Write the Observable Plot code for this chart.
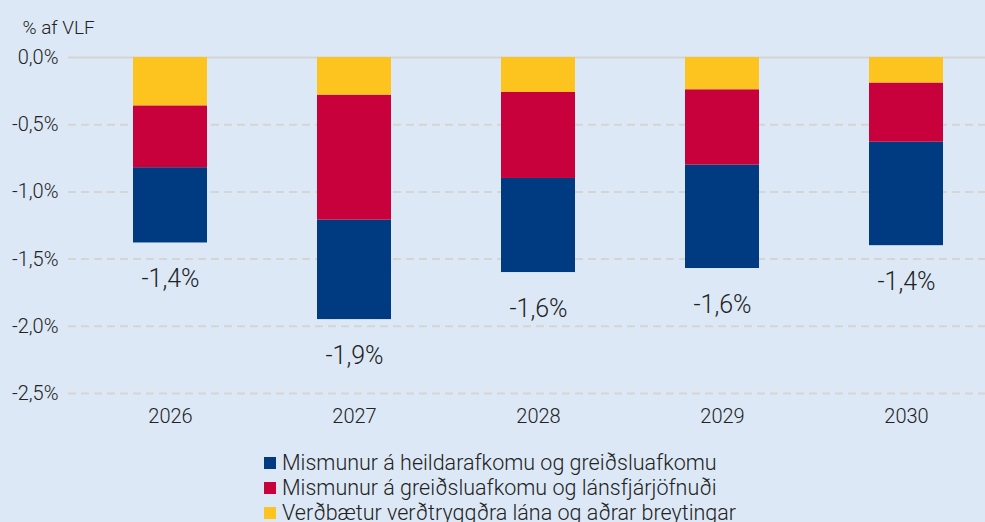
<!DOCTYPE html>
<html>
<head>
<meta charset="utf-8">
<script src="https://cdn.jsdelivr.net/npm/d3@7"></script>
<script src="https://cdn.jsdelivr.net/npm/@observablehq/plot@0.6"></script>
<style>
  html, body { margin: 0; padding: 0; background: #dce8f5; }
  body { width: 985px; height: 522px; overflow: hidden; font-family: Roboto, "Noto Sans", sans-serif; color: #222; }
  #legend { margin-left: 264px; margin-top: 10px; font-size: 21.5px; font-weight: 300; }
  .row { display: flex; align-items: center; height: 25px; white-space: nowrap; }
  .sw { width: 12px; height: 12px; margin-right: 6px; flex: none; }
</style>
</head>
<body>
<div id="chart"></div>
<div id="legend"></div>
<script>
const years = ["2026", "2027", "2028", "2029", "2030"];
const seriesNames = [
  "Mismunur á heildarafkomu og greiðsluafkomu",
  "Mismunur á greiðsluafkomu og lánsfjárjöfnuði",
  "Verðbætur verðtryggðra lána og aðrar breytingar"
];
const seriesColors = ["#003b82", "#c8003b", "#fdc41f"];
const heildarafkoma = [-0.56, -0.74, -0.70, -0.77, -0.77];
const greidsluafkoma = [-0.46, -0.93, -0.64, -0.56, -0.44];
const verdbaetur = [-0.36, -0.28, -0.26, -0.24, -0.19];
const totalLabels = ["-1,4%", "-1,9%", "-1,6%", "-1,6%", "-1,4%"];
const yTicks = [0, -0.5, -1, -1.5, -2, -2.5];

const seriesValues = [heildarafkoma, greidsluafkoma, verdbaetur];
const rows = [];
seriesNames.forEach((s, si) => years.forEach((y, i) => rows.push({year: y, series: s, value: seriesValues[si][i]})));
const totals = years.map((y, i) => seriesValues.reduce((a, v) => a + v[i], 0));
const fmt = d => d.toFixed(1).replace("-0.0", "0.0").replace(".", ",") + "%";

const chart = Plot.plot({
  width: 985,
  height: 440,
  marginTop: 57,
  marginBottom: 47,
  marginLeft: 68,
  marginRight: 0,
  style: {background: "#dce8f5", fontFamily: "Roboto, 'Noto Sans', sans-serif", color: "#222", fontWeight: 300},
  x: {domain: years, range: [78, 998], paddingInner: 0.598, paddingOuter: 0.299, label: null},
  y: {domain: [-2.5, 0], label: null},
  color: {domain: seriesNames, range: seriesColors},
  marks: [
    Plot.ruleY(yTicks.filter(d => d !== 0), {stroke: "#d5d5d5", strokeWidth: 2, strokeDasharray: "8,5"}),
    Plot.ruleY([0], {stroke: "#d3d3d3", strokeWidth: 2}),
    Plot.barY(rows, {x: "year", y: "value", fill: "series", order: [seriesNames[2], seriesNames[1], seriesNames[0]]}),
    Plot.text(years, {x: d => d, y: (d, i) => totals[i], text: (d, i) => totalLabels[i], dy: 36, fontSize: 25}),
    Plot.axisY({ticks: yTicks, tickFormat: fmt, tickSize: 0, tickPadding: 10, fontSize: 20}),
    Plot.axisX({tickSize: 0, tickPadding: 15, fontSize: 20}),
    Plot.text(["% af VLF"], {frameAnchor: "top-left", dx: -46, dy: -37, textAnchor: "start", fontSize: 19})
  ]
});
document.getElementById("chart").appendChild(chart);

const legend = document.getElementById("legend");
seriesNames.forEach((s, i) => {
  const r = document.createElement("div");
  r.className = "row";
  const sw = document.createElement("span");
  sw.className = "sw";
  sw.style.background = seriesColors[i];
  const t = document.createElement("span");
  t.textContent = s;
  r.appendChild(sw);
  r.appendChild(t);
  legend.appendChild(r);
});
</script>
</body>
</html>
